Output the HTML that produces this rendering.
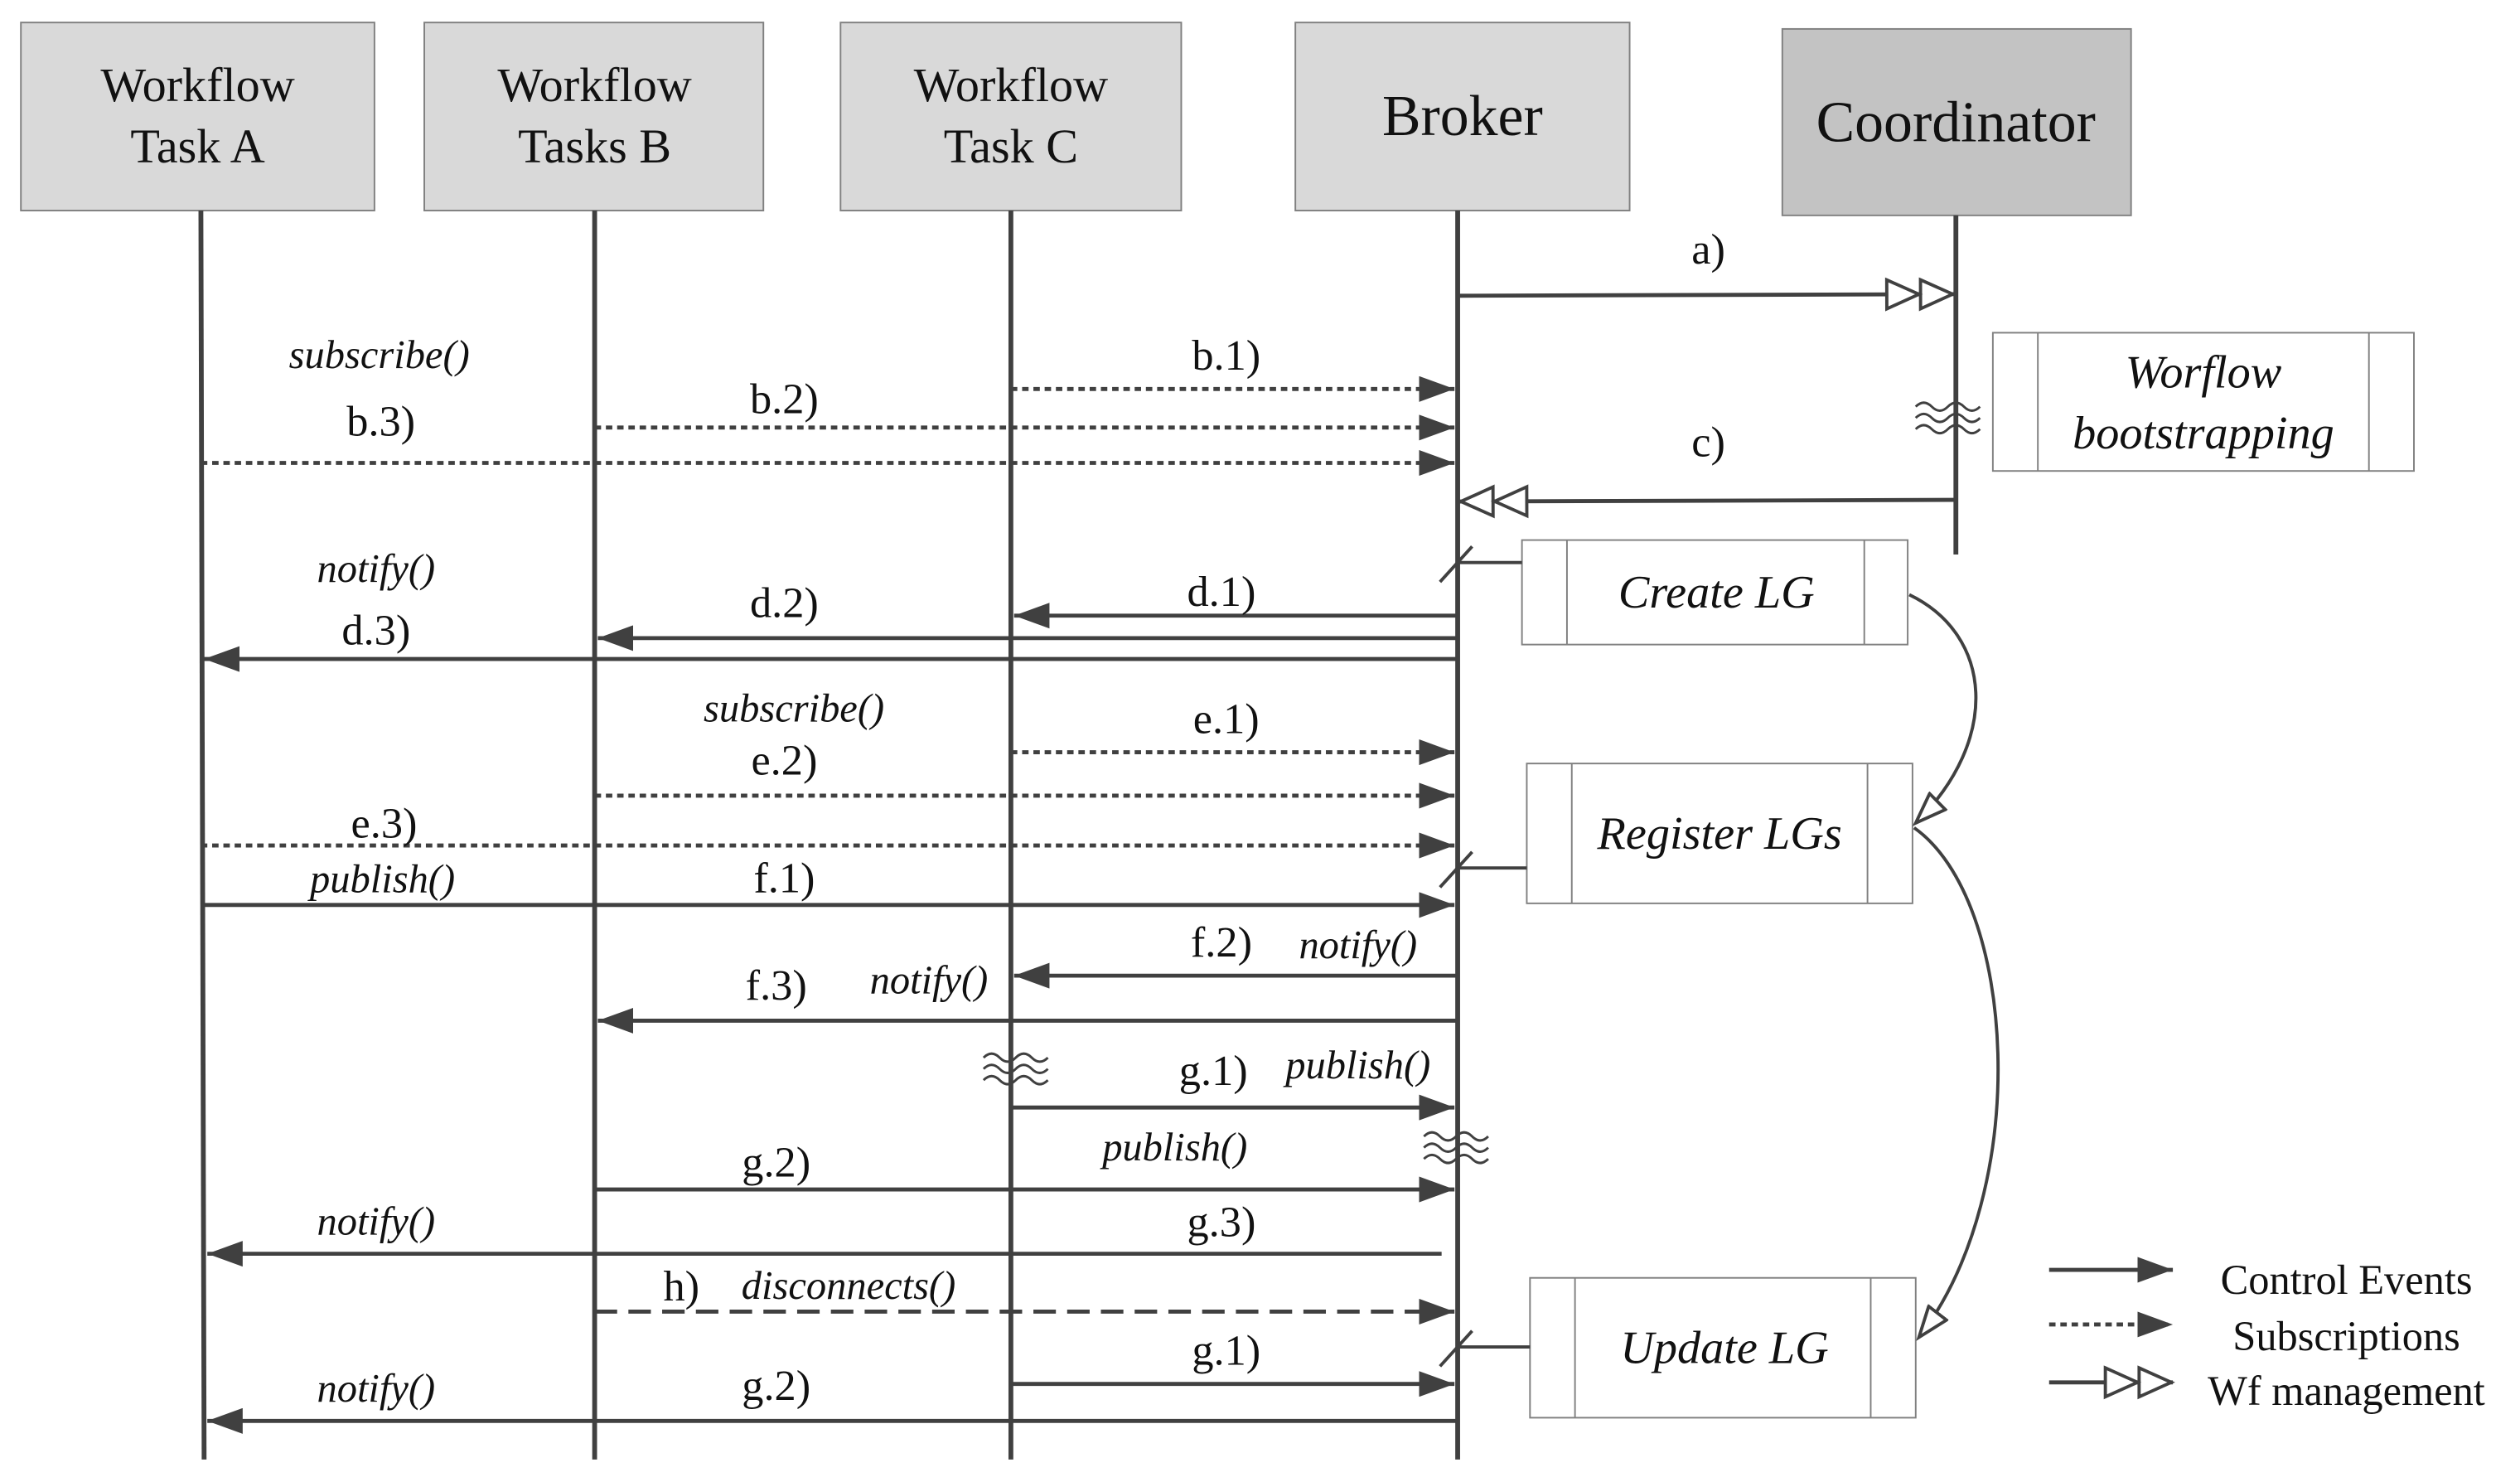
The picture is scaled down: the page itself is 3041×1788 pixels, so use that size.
<!DOCTYPE html>
<html><head><meta charset="utf-8"><style>
html,body{margin:0;padding:0;background:#fff;}
svg{display:block;}
text{font-family:"Liberation Serif",serif;fill:#111;}
.i{font-style:italic;}
</style></head><body>
<svg width="3041" height="1788" viewBox="0 0 1568 922" preserveAspectRatio="none" xmlns="http://www.w3.org/2000/svg">
<defs>
<marker id="f" markerWidth="24" markerHeight="16" refX="22" refY="8" orient="auto" markerUnits="userSpaceOnUse"><path d="M0,0 L22,8 L0,16 Z" fill="#404040"/></marker>
<marker id="h" markerWidth="24" markerHeight="16" refX="20" refY="8" orient="auto" markerUnits="userSpaceOnUse"><path d="M1,1 L20,8 L1,15 Z" fill="#fff" stroke="#404040" stroke-width="2"/></marker>
<marker id="dh" markerWidth="46" markerHeight="22" refX="44" refY="11" orient="auto" markerUnits="userSpaceOnUse"><path d="M2,2 L22,11 L2,20 Z M23,2 L43,11 L23,20 Z" fill="#fff" stroke="#404040" stroke-width="2"/></marker>
</defs>
<g stroke="#808080" stroke-width="1">
<rect x="13" y="14" width="220" height="117" fill="#d9d9d9"/>
<rect x="264" y="14" width="211" height="117" fill="#d9d9d9"/>
<rect x="523" y="14" width="212" height="117" fill="#d9d9d9"/>
<rect x="806" y="14" width="208" height="117" fill="#d9d9d9"/>
<rect x="1109" y="18" width="217" height="116" fill="#c3c3c3"/>
</g>
<g font-size="30" text-anchor="middle">
<text x="123" y="63">Workflow</text><text x="123" y="101">Task A</text>
<text x="370" y="63">Workflow</text><text x="370" y="101">Tasks B</text>
<text x="629" y="63">Workflow</text><text x="629" y="101">Task C</text>
<text x="910" y="84" font-size="36">Broker</text>
<text x="1217" y="88" font-size="36">Coordinator</text>
</g>
<g stroke="#404040" stroke-width="3">
<line x1="125" y1="131" x2="127" y2="908"/>
<line x1="370" y1="131" x2="370" y2="908"/>
<line x1="629" y1="131" x2="629" y2="908"/>
<line x1="907" y1="131" x2="907" y2="908"/>
<line x1="1217" y1="134" x2="1217" y2="345"/>
</g>
<g stroke="#808080" stroke-width="1" fill="#fff">
<rect x="1240" y="207" width="262" height="86"/><line x1="1268" y1="207" x2="1268" y2="293"/><line x1="1474" y1="207" x2="1474" y2="293"/>
<rect x="947" y="336" width="240" height="65"/><line x1="975" y1="336" x2="975" y2="401"/><line x1="1160" y1="336" x2="1160" y2="401"/>
<rect x="950" y="475" width="240" height="87"/><line x1="978" y1="475" x2="978" y2="562"/><line x1="1162" y1="475" x2="1162" y2="562"/>
<rect x="952" y="795" width="240" height="87"/><line x1="980" y1="795" x2="980" y2="882"/><line x1="1164" y1="795" x2="1164" y2="882"/>
</g>
<g font-size="29" text-anchor="middle" class="i">
<text x="1371" y="241" class="i">Worflow</text><text x="1371" y="279" class="i">bootstrapping</text>
<text x="1068" y="378" class="i">Create LG</text>
<text x="1070" y="528" class="i">Register LGs</text>
<text x="1073" y="848" class="i">Update LG</text>
</g>
<g stroke="#404040" stroke-width="2" fill="none">
<line x1="907" y1="350" x2="947" y2="350"/><line x1="896" y1="362" x2="916" y2="340"/>
<line x1="907" y1="540" x2="950" y2="540"/><line x1="896" y1="552" x2="916" y2="530"/>
<line x1="907" y1="838" x2="952" y2="838"/><line x1="896" y1="850" x2="916" y2="828"/>
<path d="M1188,370 C1240,395 1245,460 1192,512" marker-end="url(#h)"/>
<path d="M1191,515 C1255,560 1265,740 1194,832" marker-end="url(#h)"/>
</g>
<g stroke="#404040" stroke-width="2.5" fill="none">
<line x1="907" y1="184" x2="1216" y2="183" marker-end="url(#dh)"/>
<line x1="1217" y1="311" x2="908" y2="312" marker-end="url(#dh)"/>
<g stroke-dasharray="4,3">
<line x1="629" y1="242" x2="905" y2="242" marker-end="url(#f)"/>
<line x1="370" y1="266" x2="905" y2="266" marker-end="url(#f)"/>
<line x1="125" y1="288" x2="905" y2="288" marker-end="url(#f)"/>
<line x1="629" y1="468" x2="905" y2="468" marker-end="url(#f)"/>
<line x1="370" y1="495" x2="905" y2="495" marker-end="url(#f)"/>
<line x1="125" y1="526" x2="905" y2="526" marker-end="url(#f)"/>
</g>
<line x1="907" y1="383" x2="631" y2="383" marker-end="url(#f)"/>
<line x1="907" y1="397" x2="372" y2="397" marker-end="url(#f)"/>
<line x1="907" y1="410" x2="127" y2="410" marker-end="url(#f)"/>
<line x1="125" y1="563" x2="905" y2="563" marker-end="url(#f)"/>
<line x1="907" y1="607" x2="631" y2="607" marker-end="url(#f)"/>
<line x1="907" y1="635" x2="372" y2="635" marker-end="url(#f)"/>
<line x1="629" y1="689" x2="905" y2="689" marker-end="url(#f)"/>
<line x1="370" y1="740" x2="905" y2="740" marker-end="url(#f)"/>
<line x1="897" y1="780" x2="129" y2="780" marker-end="url(#f)"/>
<line x1="370" y1="816" x2="905" y2="816" stroke-dasharray="14,7" marker-end="url(#f)"/>
<line x1="629" y1="861" x2="905" y2="861" marker-end="url(#f)"/>
<line x1="907" y1="884" x2="129" y2="884" marker-end="url(#f)"/>
<line x1="1275" y1="790" x2="1352" y2="790" marker-end="url(#f)"/>
<line x1="1275" y1="824" x2="1352" y2="824" stroke-dasharray="4,3" marker-end="url(#f)"/>
<line x1="1275" y1="860" x2="1352" y2="860" marker-end="url(#dh)"/>
</g>
<g stroke="#404040" stroke-width="1.5" fill="none">
<path d="M1192,253 q5,-5 10,0 t10,0 t10,0 t10,0"/><path d="M1192,260 q5,-5 10,0 t10,0 t10,0 t10,0"/><path d="M1192,267 q5,-5 10,0 t10,0 t10,0 t10,0"/>
<path d="M612,658 q5,-5 10,0 t10,0 t10,0 t10,0"/><path d="M612,665 q5,-5 10,0 t10,0 t10,0 t10,0"/><path d="M612,672 q5,-5 10,0 t10,0 t10,0 t10,0"/>
<path d="M886,707 q5,-5 10,0 t10,0 t10,0 t10,0"/><path d="M886,714 q5,-5 10,0 t10,0 t10,0 t10,0"/><path d="M886,721 q5,-5 10,0 t10,0 t10,0 t10,0"/>
</g>
<g font-size="27" text-anchor="middle">
<text x="1063" y="164">a)</text>
<text x="1063" y="284">c)</text>
<text x="763" y="230">b.1)</text><text x="488" y="257">b.2)</text><text x="237" y="271">b.3)</text>
<text x="760" y="377">d.1)</text><text x="488" y="384">d.2)</text><text x="234" y="401">d.3)</text>
<text x="763" y="456">e.1)</text><text x="488" y="482">e.2)</text><text x="239" y="521">e.3)</text>
<text x="488" y="555">f.1)</text><text x="760" y="595">f.2)</text><text x="483" y="622">f.3)</text>
<text x="755" y="675">g.1)</text><text x="483" y="732">g.2)</text><text x="760" y="769">g.3)</text>
<text x="424" y="809">h)</text>
<text x="763" y="849">g.1)</text><text x="483" y="871">g.2)</text>
</g>
<g font-size="25" text-anchor="middle" class="i">
<text x="236" y="229" class="i">subscribe()</text>
<text x="234" y="362" class="i">notify()</text>
<text x="494" y="449" class="i">subscribe()</text>
<text x="238" y="555" class="i">publish()</text>
<text x="845" y="596" class="i">notify()</text>
<text x="578" y="618" class="i">notify()</text>
<text x="845" y="671" class="i">publish()</text>
<text x="731" y="722" class="i">publish()</text>
<text x="234" y="768" class="i">notify()</text>
<text x="528" y="808" class="i">disconnects()</text>
<text x="234" y="872" class="i">notify()</text>
</g>
<g font-size="26" text-anchor="middle">
<text x="1460" y="805">Control Events</text>
<text x="1460" y="840">Subscriptions</text>
<text x="1460" y="874">Wf management</text>
</g>
</svg>
</body></html>
